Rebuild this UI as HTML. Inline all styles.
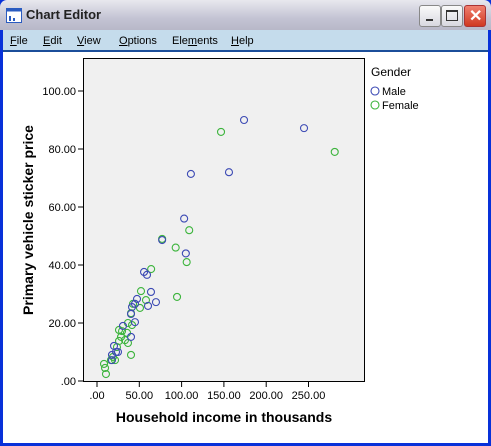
<!DOCTYPE html>
<html><head><meta charset="utf-8"><style>
body{margin:0;width:491px;height:446px;overflow:hidden;font-family:"Liberation Sans",sans-serif;}
#win{position:absolute;left:0;top:0;width:491px;height:446px;background:#0831d9;}
#title{position:absolute;left:0;top:0;width:491px;height:30px;background:linear-gradient(#e8e8ee,#c4c4d4 60%,#b8b8c8);border-radius:7px 7px 0 0;}
#title span{position:absolute;left:26px;top:7px;font:bold 13px "Liberation Sans",sans-serif;color:#222;}
.btn{position:absolute;top:5px;width:20px;height:20px;border:1px solid #888;border-radius:3px;background:linear-gradient(#fafafa,#d8d8e0);}
#menu{position:absolute;left:3px;top:30px;width:485px;height:20px;background:#c5dcec;font-size:11px;}
#menu span{position:absolute;top:5px;}
#content{position:absolute;left:3px;top:50px;width:485px;height:393px;background:#fff;border-top:2px solid #1b4e9a;box-sizing:border-box;}
</style></head><body>
<div id="win">
<div id="title">
<svg style="position:absolute;left:6px;top:8px" width="16" height="15"><rect x="0.5" y="0.5" width="15" height="14" fill="#fff" stroke="#2a5bc0"/><rect x="0.5" y="0.5" width="15" height="3" fill="#2a5bc0"/><rect x="3" y="8" width="2" height="5" fill="#2a5bc0"/><rect x="7" y="10" width="2" height="3" fill="#2a5bc0"/></svg>
<span>Chart Editor</span>
<div class="btn" style="left:419px"><div style="position:absolute;left:6px;top:13px;width:7px;height:2px;background:#333"></div></div>
<div class="btn" style="left:441px"><div style="position:absolute;left:4px;top:4px;width:10px;height:10px;border:1px solid #333;border-top-width:2px;box-sizing:border-box;width:12px;height:11px"></div></div>
<div class="btn" style="left:464px;background:linear-gradient(#f08070,#d03820);border-color:#a33"><span style="position:absolute;left:4px;top:0px;color:#fff;font:bold 16px 'Liberation Sans',sans-serif">✕</span></div>
</div>
<div id="menu">
<span style="left:7px"><u>F</u>ile</span>
<span style="left:40px"><u>E</u>dit</span>
<span style="left:74px"><u>V</u>iew</span>
<span style="left:116px"><u>O</u>ptions</span>
<span style="left:169px">Ele<u>m</u>ents</span>
<span style="left:228px"><u>H</u>elp</span>
</div>
<div id="content"></div>
<svg id="chart" style="position:absolute;left:0;top:0" width="491" height="446"></svg>
</div>
<script>
const xTicks=[0,50,100,150,200,250];
const xTickLabels=[".00","50.00","100.00","150.00","200.00","250.00"];
const yTicks=[0,20,40,60,80,100];
const yTickLabels=[".00","20.00","40.00","60.00","80.00","100.00"];
const maleIncome=[173.8,244.7,111,156,103,105,77,55.6,59.1,63.8,69.7,47.3,44.9,41.4,40.2,44.9,30.7,40.2,20.1,22.5,17.7,17.7,24.8,60.3];
const malePrice=[90,87.2,71.4,72,56,44,48.6,37.6,36.6,30.7,27.2,28.3,26.6,25.5,23.1,20.3,19.0,15.2,12.1,10.0,9.0,7.2,10.0,25.9];
const femaleIncome=[146.6,281,109,93,106,77,64,94.6,42.6,50.8,40.2,36.6,41.4,26.0,29.6,35.5,28.4,33.1,26.0,36.6,40.2,23.6,18.9,8.3,9.5,10.6,21.3,16.5,52.0,57.9];
const femalePrice=[85.9,79,52,46,41,49,38.6,29,26.6,25.2,23.4,20.0,19.3,17.6,17.2,16.6,15.2,14.1,13.8,13.1,9.0,11.7,8.3,5.9,4.5,2.4,7.2,7.2,31.0,27.9];
const svg=document.getElementById('chart');const NS='http://www.w3.org/2000/svg';
const X=v=>97+v*0.846, Y=v=>381-v*2.9;
function mk(t,a,txt){const e=document.createElementNS(NS,t);for(const k in a)e.setAttribute(k,a[k]);if(txt!==undefined)e.textContent=txt;svg.appendChild(e);return e;}
let e=mk('rect',{x:83.5,y:58.5,width:281,height:323,fill:'#f0f0f0',stroke:'#000','stroke-width':1});


xTicks.forEach((v,i)=>{let t=mk('line',{x1:X(v),x2:X(v),y1:382,y2:387,stroke:'#000'});


let l=mk('text',{x:X(v),y:399,'text-anchor':'middle','font-size':11,fill:'#000'},xTickLabels[i]);

});
yTicks.forEach((v,i)=>{let t=mk('line',{x1:78,x2:83,y1:Y(v),y2:Y(v),stroke:'#000'});


let l=mk('text',{x:76,y:Y(v)+4,'text-anchor':'end','font-size':11,fill:'#000'},yTickLabels[i]);

});
e=mk('text',{x:224,y:422,'text-anchor':'middle','font-size':14,'font-weight':'bold'},'Household income in thousands');


e=mk('text',{x:0,y:0,'text-anchor':'middle','font-size':14,'font-weight':'bold',transform:'translate(33,220) rotate(-90)'},'Primary vehicle sticker price');


function pts(xs,ys,col,name){xs.forEach((v,i)=>{let c=mk('circle',{cx:X(v),cy:Y(ys[i]),r:3.5,fill:'none',stroke:col,'stroke-width':1.1});

});}
pts(femaleIncome,femalePrice,'#3cb43c','female-point');
pts(maleIncome,malePrice,'#3c4ab4','male-point');
e=mk('text',{x:371,y:76,'font-size':12},'Gender');


[['Male','#3c4ab4',91],['Female','#3cb43c',105]].forEach(([n,c,y])=>{let ci=mk('circle',{cx:375,cy:y,r:4,fill:'none',stroke:c,'stroke-width':1.1});


let t=mk('text',{x:382,y:y+4,'font-size':11},n);

});
</script>
</body></html>
